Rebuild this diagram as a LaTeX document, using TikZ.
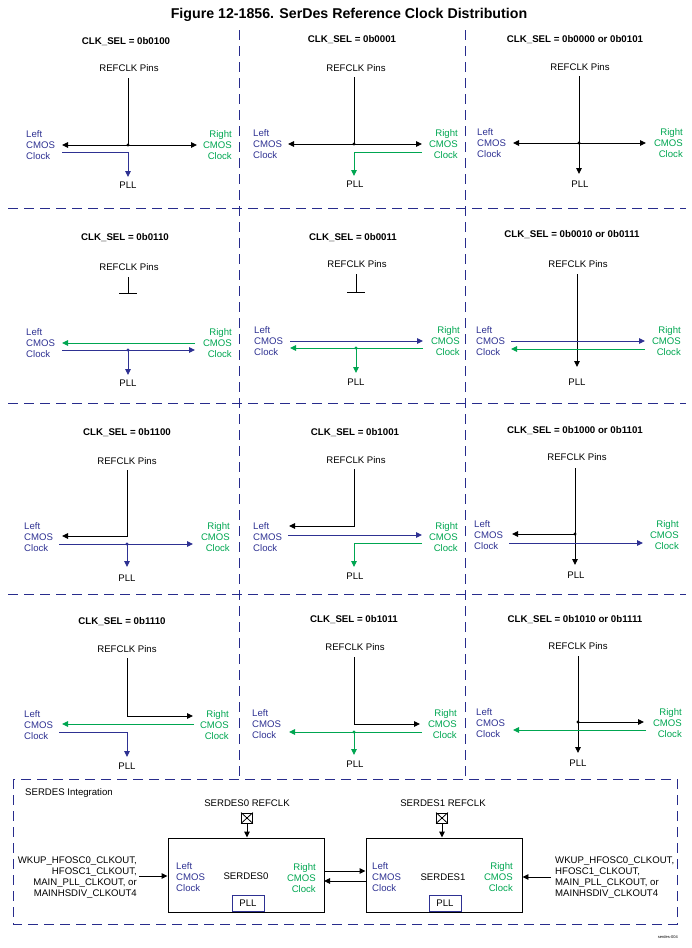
\documentclass[tikz,border=0pt]{standalone}
\usepackage{fontspec}
\setmainfont{Liberation Sans}
\usetikzlibrary{arrows.meta}
\definecolor{cblue}{RGB}{46,49,146}
\definecolor{cgreen}{RGB}{0,166,81}
\definecolor{cnavy}{RGB}{40,44,140}
\tikzset{
 lbl/.style={font=\fontsize{9.6}{11}\selectfont, inner sep=0pt},
 sel/.style={font=\bfseries\fontsize{9.7}{11}\selectfont, inner sep=0pt},
 lft/.style={lbl, text=cblue, align=left, anchor=west},
 rgt/.style={lbl, text=cgreen, align=right, anchor=east},
 blk/.style={line width=0.95pt, black},
 bl/.style={line width=0.95pt, cblue},
 gr/.style={line width=0.95pt, cgreen},
 arr/.style={-{Triangle[length=6pt,width=5.5pt]}},
 darr/.style={{Triangle[length=6pt,width=5.5pt]}-{Triangle[length=6pt,width=5.5pt]}},
 dotn/.style={circle, fill, inner sep=0pt, minimum size=3.4pt},
 gridline/.style={cnavy, line width=1pt, dash pattern=on 10pt off 6pt},
 box/.style={draw, line width=0.95pt, inner sep=0pt},
}
\begin{document}
\begin{tikzpicture}[x=1pt,y=-1pt]
\useasboundingbox (0,0) rectangle (691,948);
\node[font=\bfseries\fontsize{14.2}{16}\selectfont, inner sep=0pt] (title) at (349,15) {Figure 12-1856. SerDes Reference Clock Distribution};

% grid
\coordinate (v1t) at (239,30); \coordinate (v1b) at (239,779);
\coordinate (v2t) at (465,30); \coordinate (v2b) at (465,779);
\coordinate (h1l) at (8,208); \coordinate (h1r) at (686,208);
\coordinate (h2l) at (8,403); \coordinate (h2r) at (686,403);
\coordinate (h3l) at (8,594); \coordinate (h3r) at (686,594);
\draw[gridline] (v1t) -- (v1b);
\draw[gridline] (v2t) -- (v2b);
\draw[gridline] (h1l) -- (h1r);
\draw[gridline] (h2l) -- (h2r);
\draw[gridline] (h3l) -- (h3r);
\coordinate (bx1) at (13,779); \coordinate (bx2) at (677,924);
\draw[gridline] (bx1) rectangle (bx2);

% ---------- Row 1 col 1 ----------
\node[sel] (s11) at (126,42) {CLK\_SEL = 0b0100};
\node[lbl] (r11) at (129,68) {REFCLK Pins};
\node[lft] (L11) at (26,145) {Left\\CMOS\\Clock};
\node[rgt] (R11) at (232,145) {Right\\CMOS\\Clock};
\node[lbl] (P11) at (128,185) {PLL};
\coordinate (t11) at (128,78); \coordinate (j11) at (128,145);
\coordinate (le11) at (62,145); \coordinate (re11) at (197,145);
\coordinate (b11) at (62,152); \coordinate (bj11) at (128,152); \coordinate (bp11) at (128,177);
\draw[blk] (t11) -- (j11);
\draw[blk,darr] (le11) -- (re11);
\node[dotn] (d11) at (j11) {};
\draw[bl,arr] (b11) -- (bj11) -- (bp11);

% ---------- Row 1 col 2 ----------
\node[sel] (s12) at (352,40) {CLK\_SEL = 0b0001};
\node[lbl] (r12) at (356,68) {REFCLK Pins};
\node[lft] (L12) at (253,144) {Left\\CMOS\\Clock};
\node[rgt] (R12) at (458,144) {Right\\CMOS\\Clock};
\node[lbl] (P12) at (355,184) {PLL};
\coordinate (t12) at (354,77); \coordinate (j12) at (354,144);
\coordinate (le12) at (288,144); \coordinate (re12) at (422,144);
\coordinate (g12) at (422,152); \coordinate (gj12) at (354,152); \coordinate (gp12) at (354,176);
\draw[blk] (t12) -- (j12);
\draw[blk,darr] (le12) -- (re12);
\node[dotn] (d12) at (j12) {};
\draw[gr,arr] (g12) -- (gj12) -- (gp12);

% ---------- Row 1 col 3 ----------
\node[sel] (s13) at (575,40) {CLK\_SEL = 0b0000 or 0b0101};
\node[lbl] (r13) at (580,67) {REFCLK Pins};
\node[lft] (L13) at (477,143) {Left\\CMOS\\Clock};
\node[rgt] (R13) at (683,143) {Right\\CMOS\\Clock};
\node[lbl] (P13) at (580,184) {PLL};
\coordinate (t13) at (579,76); \coordinate (j13) at (579,143); \coordinate (p13) at (579,174);
\coordinate (le13) at (513,143); \coordinate (re13) at (646,143);
\draw[blk,arr] (t13) -- (p13);
\draw[blk,darr] (le13) -- (re13);
\node[dotn] (d13) at (j13) {};

% ---------- Row 2 col 1 ----------
\node[sel] (s21) at (125,238) {CLK\_SEL = 0b0110};
\node[lbl] (r21) at (129,267) {REFCLK Pins};
\node[lft] (L21) at (26,343) {Left\\CMOS\\Clock};
\node[rgt] (R21) at (232,343) {Right\\CMOS\\Clock};
\node[lbl] (P21) at (128,383) {PLL};
\coordinate (t21) at (128,277); \coordinate (tb21) at (128,293);
\coordinate (tl21) at (119,293); \coordinate (tr21) at (137,293);
\draw[blk] (t21) -- (tb21); \draw[blk] (tl21) -- (tr21);
\coordinate (g21a) at (195,343); \coordinate (g21b) at (62,343);
\coordinate (b21a) at (62,350); \coordinate (b21b) at (195,350);
\coordinate (j21) at (128,350); \coordinate (p21) at (128,375);
\draw[gr,arr] (g21a) -- (g21b);
\draw[bl,arr] (b21a) -- (b21b);
\draw[bl,arr] (j21) -- (p21);
\node[dotn, cblue] (d21) at (j21) {};

% ---------- Row 2 col 2 ----------
\node[sel] (s22) at (353,238) {CLK\_SEL = 0b0011};
\node[lbl] (r22) at (357,264) {REFCLK Pins};
\node[lft] (L22) at (254,341) {Left\\CMOS\\Clock};
\node[rgt] (R22) at (460,341) {Right\\CMOS\\Clock};
\node[lbl] (P22) at (356,382) {PLL};
\coordinate (t22) at (356,274); \coordinate (tb22) at (356,292);
\coordinate (tl22) at (347,292); \coordinate (tr22) at (365,292);
\draw[blk] (t22) -- (tb22); \draw[blk] (tl22) -- (tr22);
\coordinate (b22a) at (290,341); \coordinate (b22b) at (423,341);
\coordinate (g22a) at (423,348); \coordinate (g22b) at (290,348);
\coordinate (j22) at (356,348); \coordinate (p22) at (356,373);
\draw[bl,arr] (b22a) -- (b22b);
\draw[gr,arr] (g22a) -- (g22b);
\draw[gr,arr] (j22) -- (p22);
\node[dotn, cgreen] (d22) at (j22) {};

% ---------- Row 2 col 3 ----------
\node[sel] (s23) at (572,235) {CLK\_SEL = 0b0010 or 0b0111};
\node[lbl] (r23) at (578,264) {REFCLK Pins};
\node[lft] (L23) at (476,341) {Left\\CMOS\\Clock};
\node[rgt] (R23) at (681,341) {Right\\CMOS\\Clock};
\node[lbl] (P23) at (577,382) {PLL};
\coordinate (t23) at (577,274); \coordinate (p23) at (577,367);
\draw[blk,arr] (t23) -- (p23);
\coordinate (b23a) at (511,341); \coordinate (b23b) at (645,341);
\coordinate (g23a) at (645,349); \coordinate (g23b) at (511,349);
\draw[bl,arr] (b23a) -- (b23b);
\draw[gr,arr] (g23a) -- (g23b);

% ---------- Row 3 col 1 ----------
\node[sel] (s31) at (127,433) {CLK\_SEL = 0b1100};
\node[lbl] (r31) at (127,461) {REFCLK Pins};
\node[lft] (L31) at (24,537) {Left\\CMOS\\Clock};
\node[rgt] (R31) at (230,537) {Right\\CMOS\\Clock};
\node[lbl] (P31) at (127,578) {PLL};
\coordinate (t31) at (127,470); \coordinate (k31) at (127,536); \coordinate (e31) at (62,536);
\draw[blk,arr] (t31) -- (k31) -- (e31);
\coordinate (b31a) at (59,544); \coordinate (b31b) at (193,544);
\coordinate (j31) at (127,544); \coordinate (p31) at (127,567);
\draw[bl,arr] (b31a) -- (b31b);
\draw[bl,arr] (j31) -- (p31);
\node[dotn, cblue] (d31) at (j31) {};

% ---------- Row 3 col 2 ----------
\node[sel] (s32) at (355,433) {CLK\_SEL = 0b1001};
\node[lbl] (r32) at (356,460) {REFCLK Pins};
\node[lft] (L32) at (253,537) {Left\\CMOS\\Clock};
\node[rgt] (R32) at (458,537) {Right\\CMOS\\Clock};
\node[lbl] (P32) at (355,576) {PLL};
\coordinate (t32) at (354,469); \coordinate (k32) at (354,526); \coordinate (e32) at (289,526);
\draw[blk,arr] (t32) -- (k32) -- (e32);
\coordinate (b32a) at (288,535); \coordinate (b32b) at (422,535);
\draw[bl,arr] (b32a) -- (b32b);
\coordinate (g32a) at (422,543); \coordinate (g32j) at (354,543); \coordinate (p32) at (354,567);
\draw[gr,arr] (g32a) -- (g32j) -- (p32);

% ---------- Row 3 col 3 ----------
\node[sel] (s33) at (575,431) {CLK\_SEL = 0b1000 or 0b1101};
\node[lbl] (r33) at (577,457) {REFCLK Pins};
\node[lft] (L33) at (474,535) {Left\\CMOS\\Clock};
\node[rgt] (R33) at (679,535) {Right\\CMOS\\Clock};
\node[lbl] (P33) at (576,575) {PLL};
\coordinate (t33) at (575,468); \coordinate (p33) at (575,565);
\coordinate (j33) at (575,534); \coordinate (e33) at (512,534);
\draw[blk,arr] (t33) -- (p33);
\draw[blk,arr] (j33) -- (e33);
\node[dotn] (d33) at (j33) {};
\coordinate (b33a) at (509,543); \coordinate (b33b) at (643,543);
\draw[bl,arr] (b33a) -- (b33b);

% ---------- Row 4 col 1 ----------
\node[sel] (s41) at (122,622) {CLK\_SEL = 0b1110};
\node[lbl] (r41) at (127,649) {REFCLK Pins};
\node[lft] (L41) at (24,725) {Left\\CMOS\\Clock};
\node[rgt] (R41) at (229,725) {Right\\CMOS\\Clock};
\node[lbl] (P41) at (127,766) {PLL};
\coordinate (t41) at (127,658); \coordinate (k41) at (127,716); \coordinate (e41) at (193,716);
\draw[blk,arr] (t41) -- (k41) -- (e41);
\coordinate (g41a) at (194,724); \coordinate (g41b) at (62,724);
\draw[gr,arr] (g41a) -- (g41b);
\coordinate (b41a) at (59,732); \coordinate (b41j) at (127,732); \coordinate (p41) at (127,757);
\draw[bl,arr] (b41a) -- (b41j) -- (p41);

% ---------- Row 4 col 2 ----------
\node[sel] (s42) at (354,620) {CLK\_SEL = 0b1011};
\node[lbl] (r42) at (355,647) {REFCLK Pins};
\node[lft] (L42) at (252,724) {Left\\CMOS\\Clock};
\node[rgt] (R42) at (457,724) {Right\\CMOS\\Clock};
\node[lbl] (P42) at (355,764) {PLL};
\coordinate (t42) at (354,657); \coordinate (k42) at (354,724); \coordinate (e42) at (420,724);
\draw[blk,arr] (t42) -- (k42) -- (e42);
\coordinate (g42a) at (422,732); \coordinate (g42b) at (289,732);
\coordinate (j42) at (354,732); \coordinate (p42) at (354,755);
\draw[gr,arr] (g42a) -- (g42b);
\draw[gr,arr] (j42) -- (p42);
\node[dotn, cgreen] (d42) at (j42) {};

% ---------- Row 4 col 3 ----------
\node[sel] (s43) at (575,620) {CLK\_SEL = 0b1010 or 0b1111};
\node[lbl] (r43) at (578,646) {REFCLK Pins};
\node[lft] (L43) at (476,723) {Left\\CMOS\\Clock};
\node[rgt] (R43) at (682,723) {Right\\CMOS\\Clock};
\node[lbl] (P43) at (578,763) {PLL};
\coordinate (t43) at (578,656); \coordinate (p43) at (578,753);
\coordinate (j43) at (578,722); \coordinate (e43) at (644,722);
\draw[blk,arr] (t43) -- (p43);
\draw[blk,arr] (j43) -- (e43);
\node[dotn] (d43) at (j43) {};
\coordinate (g43a) at (646,730); \coordinate (g43b) at (513,730);
\draw[gr,arr] (g43a) -- (g43b);

% ---------- SERDES integration ----------
\node[lbl, anchor=west] (integ) at (25,793) {SERDES Integration};
\node[box, minimum width=156pt, minimum height=74pt] (sd0) at (246,875) {};
\node[box, minimum width=156pt, minimum height=74pt] (sd1) at (444,875) {};
\node[lbl] (rc0) at (247,803) {SERDES0 REFCLK};
\node[lbl] (rc1) at (443,803) {SERDES1 REFCLK};
\node[box, line width=0.8pt, minimum width=11pt, minimum height=10pt] (x0) at (247,818) {};
\node[box, line width=0.8pt, minimum width=11pt, minimum height=10pt] (x1) at (442,818) {};
\draw[line width=0.8pt] (x0.north west) -- (x0.south east) (x0.north east) -- (x0.south west);
\draw[line width=0.8pt] (x1.north west) -- (x1.south east) (x1.north east) -- (x1.south west);
\draw[blk,arr] (x0.south) -- (x0.south |- sd0.north);
\draw[blk,arr] (x1.south) -- (x1.south |- sd1.north);

\node[lft] (L50) at (176,877) {Left\\CMOS\\Clock};
\node[lbl] (n50) at (246,876) {SERDES0};
\node[rgt] (R50) at (316,878) {Right\\CMOS\\Clock};
\node[lbl, draw=cblue, line width=0.95pt, minimum width=32pt, minimum height=16pt, anchor=south] (pll0) at (248,912) {PLL};

\node[lft] (L51) at (372,877) {Left\\CMOS\\Clock};
\node[lbl] (n51) at (443,877) {SERDES1};
\node[rgt] (R51) at (513,877) {Right\\CMOS\\Clock};
\node[lbl, draw=cblue, line width=0.95pt, minimum width=32pt, minimum height=16pt, anchor=south] (pll1) at (445,912) {PLL};

\coordinate (c01) at (324,871); \coordinate (c10) at (324,881);
\draw[blk,arr] (c01) -- (c01 -| sd1.west);
\draw[blk,arr] (c10 -| sd1.west) -- (c10);

\node[lbl, align=right, anchor=east] (in0) at (137,878) {WKUP\_HFOSC0\_CLKOUT,\\HFOSC1\_CLKOUT,\\MAIN\_PLL\_CLKOUT, or\\MAINHSDIV\_CLKOUT4};
\coordinate (ia0) at (139,876);
\draw[blk,arr] (ia0) -- (ia0 -| sd0.west);
\node[lbl, align=left, anchor=west] (in1) at (555,878) {WKUP\_HFOSC0\_CLKOUT,\\HFOSC1\_CLKOUT,\\MAIN\_PLL\_CLKOUT, or\\MAINHSDIV\_CLKOUT4};
\coordinate (ia1) at (551,877);
\draw[blk,arr] (ia1) -- (ia1 -| sd1.east);

\node[font=\fontsize{4}{5}\selectfont, inner sep=0pt, anchor=east] (tag) at (678,937) {serdes-004};
\end{tikzpicture}
\end{document}
